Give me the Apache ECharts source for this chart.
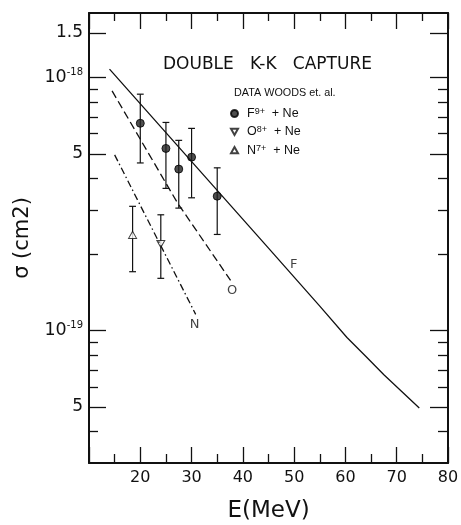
<!DOCTYPE html>
<html><head><meta charset="utf-8">
<script src="https://cdn.jsdelivr.net/npm/echarts@6/dist/echarts.min.js"></script>
<style>html,body{margin:0;padding:0;background:#fff}#c{width:461px;height:525px}</style>
</head><body><div id="c"></div>
<script>
// ---- axis ticks / labels ----
const xTicks = [20, 30, 40, 50, 60, 70, 80];
const yMajorTicks = [1.5e-18, 1e-18, 5e-19, 1e-19, 5e-20];
const yMajorLabels = ['1.5', '{b|10}{s|-18}', '5', '{b|10}{s|-19}', '5'];
const yMinorTicks = [9e-19, 8e-19, 7e-19, 6e-19, 4e-19, 3e-19, 2e-19, 9e-20, 8e-20, 7e-20, 6e-20, 4e-20];

// ---- data points (Woods et al.) ----
const fE = [20, 25, 27.5, 30, 35];
const fSigma = [6.6e-19, 5.25e-19, 4.35e-19, 4.85e-19, 3.4e-19];
const fHigh = [8.6e-19, 6.65e-19, 5.65e-19, 6.3e-19, 4.4e-19];
const fLow = [4.6e-19, 3.65e-19, 3.05e-19, 3.35e-19, 2.4e-19];

const oE = [24];
const oSigma = [2.2e-19];
const oHigh = [2.87e-19];
const oLow = [1.61e-19];

const nE = [18.5];
const nSigma = [2.39e-19];
const nHigh = [3.1e-19];
const nLow = [1.71e-19];

// ---- theory curves ----
const fCurveE = [14, 45, 55, 60.3, 64, 67.5, 74.4];
const fCurveSigma = [1.08e-18, 2.12e-19, 1.25e-19, 9.4e-20, 7.9e-20, 6.7e-20, 4.95e-20];
const oCurveE = [14.5, 27.2, 37.6];
const oCurveSigma = [8.86e-19, 3.21e-19, 1.58e-19];
const nCurveE = [15, 30.8];
const nCurveSigma = [4.95e-19, 1.16e-19];

// ---- curve annotations ----
const curveNames = ['F', 'O', 'N'];
const curveLabelE = [49.9, 37.9, 30.6];
const curveLabelSigma = [1.83e-19, 1.44e-19, 1.06e-19];

const legendNames = ['F', 'O', 'N'];
const legendTexts = ['F{s|9+}  + Ne', 'O{s|8+}  + Ne', 'N{s|7+}  + Ne'];

const FONT = 'DejaVu Sans';
const INK = '#111';
const DOWN_TRI = 'path://M0,0L10,0L5,9Z';
const UP_TRI = 'path://M5,0L10,9L0,9Z';

const zip = (a, b) => a.map((v, i) => [v, b[i]]);
const errData = [].concat(
  fE.map((e, i) => [e, fLow[i], fHigh[i]]),
  oE.map((e, i) => [e, oLow[i], oHigh[i]]),
  nE.map((e, i) => [e, nLow[i], nHigh[i]])
);

function yLabel(v) {
  for (let i = 0; i < yMajorTicks.length; i++) {
    if (Math.abs(Math.log10(v) - Math.log10(yMajorTicks[i])) < 1e-4) return yMajorLabels[i];
  }
  return '';
}

const yBase = {
  type: 'log', logBase: 10, min: 3e-20, max: 1.8e-18,
  splitLine: { show: false }
};

const chart = echarts.init(document.getElementById('c'), null, { renderer: 'canvas' });
chart.setOption({
  animation: false,
  backgroundColor: '#fff',
  title: [
    { text: 'DOUBLE   K-K   CAPTURE', left: 158, top: 51,
      textStyle: { fontFamily: FONT, fontSize: 17, fontWeight: 'normal', color: INK } },
    { text: 'DATA WOODS et. al.', left: 229, top: 83,
      textStyle: { fontFamily: 'Liberation Sans', fontSize: 10.8, fontWeight: 'normal', color: INK } }
  ],
  legend: {
    data: legendNames, orient: 'vertical', left: 230, top: 107,
    itemWidth: 7, itemHeight: 7, itemGap: 5.3, padding: 0,
    formatter: n => legendTexts[legendNames.indexOf(n)],
    textStyle: { fontFamily: 'Liberation Sans', fontSize: 12.5, color: INK, padding: [0, 0, 0, 4],
      rich: { s: { fontFamily: 'Liberation Sans', fontSize: 9, verticalAlign: 'top', lineHeight: 9, color: INK } } }
  },
  grid: { left: 89, right: 13, top: 13, bottom: 62, containLabel: false, outerBoundsMode: 'none' },
  xAxis: [
    { type: 'value', position: 'bottom', min: 10, max: 80, interval: 10,
      name: 'E(MeV)', nameLocation: 'middle', nameGap: 37,
      nameTextStyle: { fontFamily: FONT, fontSize: 23, color: INK },
      axisLine: { show: true, lineStyle: { color: INK, width: 2 } },
      axisTick: { show: true, inside: true, length: 16, lineStyle: { color: INK, width: 1.3 } },
      minorTick: { show: true, splitNumber: 2, length: 9, lineStyle: { color: INK, width: 1.3 } },
      axisLabel: { margin: 7, fontFamily: FONT, fontSize: 16, color: INK,
        formatter: v => (xTicks.indexOf(v) >= 0 ? String(v) : '') },
      splitLine: { show: false } },
    { type: 'value', position: 'top', min: 10, max: 80, interval: 10,
      axisLine: { show: true, lineStyle: { color: INK, width: 2 } },
      axisTick: { show: true, inside: true, length: 16, lineStyle: { color: INK, width: 1.3 } },
      minorTick: { show: true, splitNumber: 2, length: 8, lineStyle: { color: INK, width: 1.3 } },
      axisLabel: { show: false }, splitLine: { show: false } }
  ],
  yAxis: [
    Object.assign({}, yBase, {
      position: 'left',
      name: 'σ (cm2)', nameLocation: 'middle', nameGap: 55, nameRotate: 90,
      nameTextStyle: { fontFamily: FONT, fontSize: 21, color: INK },
      axisLine: { show: true, lineStyle: { color: INK, width: 2 } },
      axisTick: { show: true, inside: true, length: 17, customValues: yMajorTicks, lineStyle: { color: INK, width: 1.3 } },
      axisLabel: { show: true, margin: 6, customValues: yMajorTicks, formatter: yLabel,
        fontFamily: FONT, fontSize: 17, color: INK,
        rich: {
          b: { fontFamily: FONT, fontSize: 17.5, color: INK, lineHeight: 20 },
          s: { fontFamily: FONT, fontSize: 10, color: INK, verticalAlign: 'top', lineHeight: 10 }
        } }
    }),
    Object.assign({}, yBase, {
      position: 'left',
      axisLine: { show: false },
      axisTick: { show: true, inside: true, length: 9, customValues: yMinorTicks, lineStyle: { color: INK, width: 1.3 } },
      axisLabel: { show: false }
    }),
    Object.assign({}, yBase, {
      position: 'right',
      axisLine: { show: true, lineStyle: { color: INK, width: 2 } },
      axisTick: { show: true, inside: true, length: 18, customValues: yMajorTicks, lineStyle: { color: INK, width: 1.3 } },
      axisLabel: { show: false }
    }),
    Object.assign({}, yBase, {
      position: 'right',
      axisLine: { show: false },
      axisTick: { show: true, inside: true, length: 10, customValues: yMinorTicks, lineStyle: { color: INK, width: 1.3 } },
      axisLabel: { show: false }
    })
  ],
  series: [
    { name: 'curveF', type: 'line', data: zip(fCurveE, fCurveSigma), showSymbol: false, silent: true,
      lineStyle: { color: INK, width: 1.3, type: 'solid' } },
    { name: 'curveO', type: 'line', data: zip(oCurveE, oCurveSigma), showSymbol: false, silent: true,
      lineStyle: { color: INK, width: 1.3, type: [8, 4] } },
    { name: 'curveN', type: 'line', data: zip(nCurveE, nCurveSigma), showSymbol: false, silent: true,
      lineStyle: { color: INK, width: 1.3, type: [7, 3, 1.5, 3] } },
    { name: 'errors', type: 'custom', data: errData, encode: { x: 0, y: [1, 2] }, silent: true,
      renderItem: function (params, api) {
        const x = api.value(0);
        const lo = api.coord([x, api.value(1)]);
        const hi = api.coord([x, api.value(2)]);
        const c = 3.4;
        const st = { stroke: INK, lineWidth: 1.2 };
        return { type: 'group', children: [
          { type: 'line', shape: { x1: lo[0], y1: lo[1], x2: hi[0], y2: hi[1] }, style: st },
          { type: 'line', shape: { x1: hi[0] - c, y1: hi[1], x2: hi[0] + c, y2: hi[1] }, style: st },
          { type: 'line', shape: { x1: lo[0] - c, y1: lo[1], x2: lo[0] + c, y2: lo[1] }, style: st }
        ] };
      } },
    { name: 'F', type: 'scatter', data: zip(fE, fSigma), symbol: 'circle', symbolSize: 8,
      itemStyle: { color: '#222', borderColor: '#000', borderWidth: 1 } },
    { name: 'O', type: 'scatter', data: zip(oE, oSigma), symbol: DOWN_TRI, symbolSize: [8, 7],
      itemStyle: { color: '#fff', borderColor: INK, borderWidth: 1 } },
    { name: 'N', type: 'scatter', data: zip(nE, nSigma), symbol: UP_TRI, symbolSize: [8, 7],
      itemStyle: { color: '#fff', borderColor: INK, borderWidth: 1 } },
    { name: 'curveLabels', type: 'scatter', silent: true, symbolSize: 1,
      itemStyle: { color: 'rgba(0,0,0,0)' },
      data: curveNames.map((n, i) => ({ name: n, value: [curveLabelE[i], curveLabelSigma[i]] })),
      label: { show: true, position: 'inside', formatter: p => p.name,
        fontFamily: FONT, fontSize: 13, color: INK } }
  ]
});
</script></body></html>
